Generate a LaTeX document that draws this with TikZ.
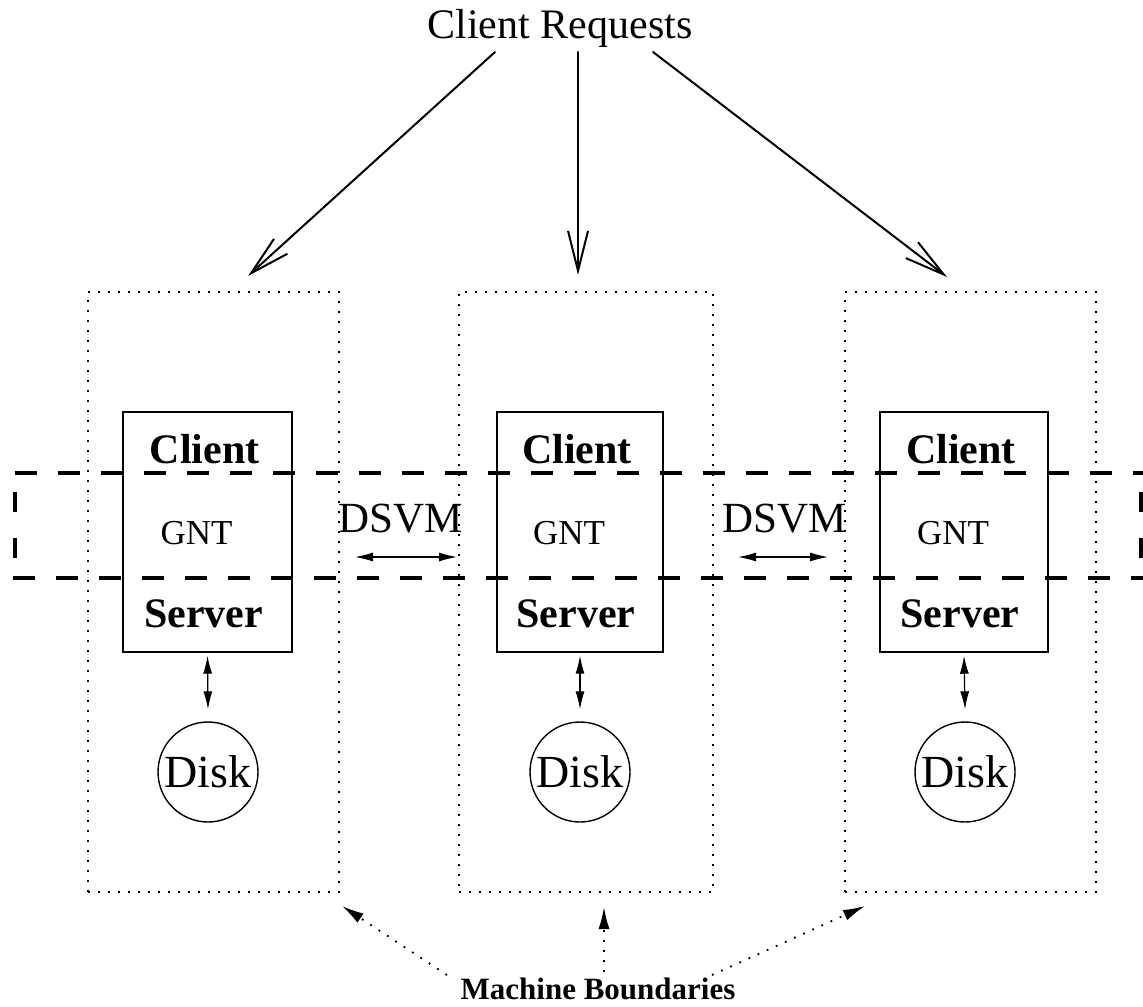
\documentclass[tikz,border=0pt]{standalone}
\usepackage{fontspec}
\setmainfont{Liberation Serif}
\usetikzlibrary{arrows.meta}
\begin{document}
\begin{tikzpicture}[x=0.5pt,y=-0.5pt,
  mach/.style={draw, line width=0.9pt, dash pattern=on 0.9pt off 4.1pt, minimum height=300pt, inner sep=0pt},
  innerbox/.style={draw, line width=0.7pt, minimum height=120pt, inner sep=0pt},
  disk/.style={draw, circle, line width=0.7pt, minimum size=50pt, inner sep=0pt, font=\fontsize{23pt}{27pt}\selectfont},
  bandh/.style={line width=2pt, dash pattern=on 11pt off 10.5pt},
  bandv/.style={line width=2pt, dash pattern=on 10pt off 13pt},
  req/.style={line width=1pt, -{Straight Barb[length=20pt,width=10pt]}, line cap=round},
  dbl/.style={line width=0.6pt, {Latex[length=9pt,width=4.5pt]}-{Latex[length=9pt,width=4.5pt]}},
  bnd/.style={line width=0.9pt, dash pattern=on 0.9pt off 4.1pt, -{Latex[length=11pt,width=5.5pt]}},
  lbl/.style={inner sep=0pt, anchor=base},
  bigtxt/.style={lbl, font=\fontsize{21pt}{25pt}\selectfont},
  boldtxt/.style={lbl, font=\fontsize{21pt}{25pt}\selectfont\bfseries},
  gnttxt/.style={lbl, font=\fontsize{17.5pt}{21pt}\selectfont},
]
\useasboundingbox (0,0) rectangle (1143,1006);

% machine boundaries
\node[mach, minimum width=125.5pt] (m1) at (213.5,592) {};
\node[mach, minimum width=127pt]   (m2) at (586,592) {};
\node[mach, minimum width=125.5pt] (m3) at (970.5,592) {};

% inner client/server boxes
\node[innerbox, minimum width=84.5pt] (b1) at (207.5,532) {};
\node[innerbox, minimum width=83pt]   (b2) at (580,532) {};
\node[innerbox, minimum width=84pt]   (b3) at (964,532) {};

% DSVM dashed band
\draw[bandh] (15,473) -- (1143,473);
\draw[bandh] (13,578) -- (1143,578);
\draw[bandv] (15,492) -- (15,560);
\draw[bandv] (1141,492) -- (1141,560);

% labels inside boxes
\foreach \i/\cx in {1/207.5, 2/580, 3/964} {
  \node[boldtxt] (cl\i) at (\cx-3,463) {Client};
  \node[gnttxt]  (g\i)  at (\cx-11,544) {GNT};
  \node[boldtxt] (sv\i) at (\cx-4,627) {Server};
}

% disks
\node[disk] (d1) at (208,772) {Disk};
\node[disk] (d2) at (580,772) {Disk};
\node[disk] (d3) at (965,772) {Disk};

\draw[dbl] ([yshift=-1.5pt]b1.south) -- ([yshift=6pt]d1.north);
\draw[dbl] ([yshift=-1.5pt]b2.south) -- ([yshift=6pt]d2.north);
\draw[dbl] ([yshift=-1.5pt]b3.south) -- ([yshift=6pt]d3.north);

% DSVM labels and arrows
\node[bigtxt, font=\fontsize{21.5pt}{25pt}\selectfont] (ds1) at (401,532) {DSVM};
\node[bigtxt, font=\fontsize{21.5pt}{25pt}\selectfont] (ds2) at (785,532) {DSVM};
\coordinate (a1l) at (355,557);
\coordinate (a1r) at (457,557);
\coordinate (a2l) at (738,557);
\coordinate (a2r) at (828,557);
\draw[dbl] (a1l) -- (a1r);
\draw[dbl] (a2l) -- (a2r);

% client requests
\node[bigtxt] (cr) at (560,39) {Client Requests};
\coordinate (cs1) at (495,52);
\coordinate (cs2) at (578,52);
\coordinate (cs3) at (653,52);
\coordinate (ct1) at (248,276);
\coordinate (ct2) at (578,275);
\coordinate (ct3) at (947,277);
\draw[req] (cs1) -- (ct1);
\draw[req] (cs2) -- (ct2);
\draw[req] (cs3) -- (ct3);

% machine boundaries label
\node[lbl, font=\fontsize{15.5pt}{18pt}\selectfont\bfseries] (mb) at (598,999) {Machine Boundaries};
\coordinate (ms1) at (447,975);
\coordinate (ms2) at (604,972);
\coordinate (ms3) at (712,975);
\coordinate (mt1) at (342,906);
\coordinate (mt2) at (604,907);
\coordinate (mt3) at (865,906);
\draw[bnd] (ms1) -- (mt1);
\draw[bnd] (ms2) -- (mt2);
\draw[bnd] (ms3) -- (mt3);
\end{tikzpicture}
\end{document}
